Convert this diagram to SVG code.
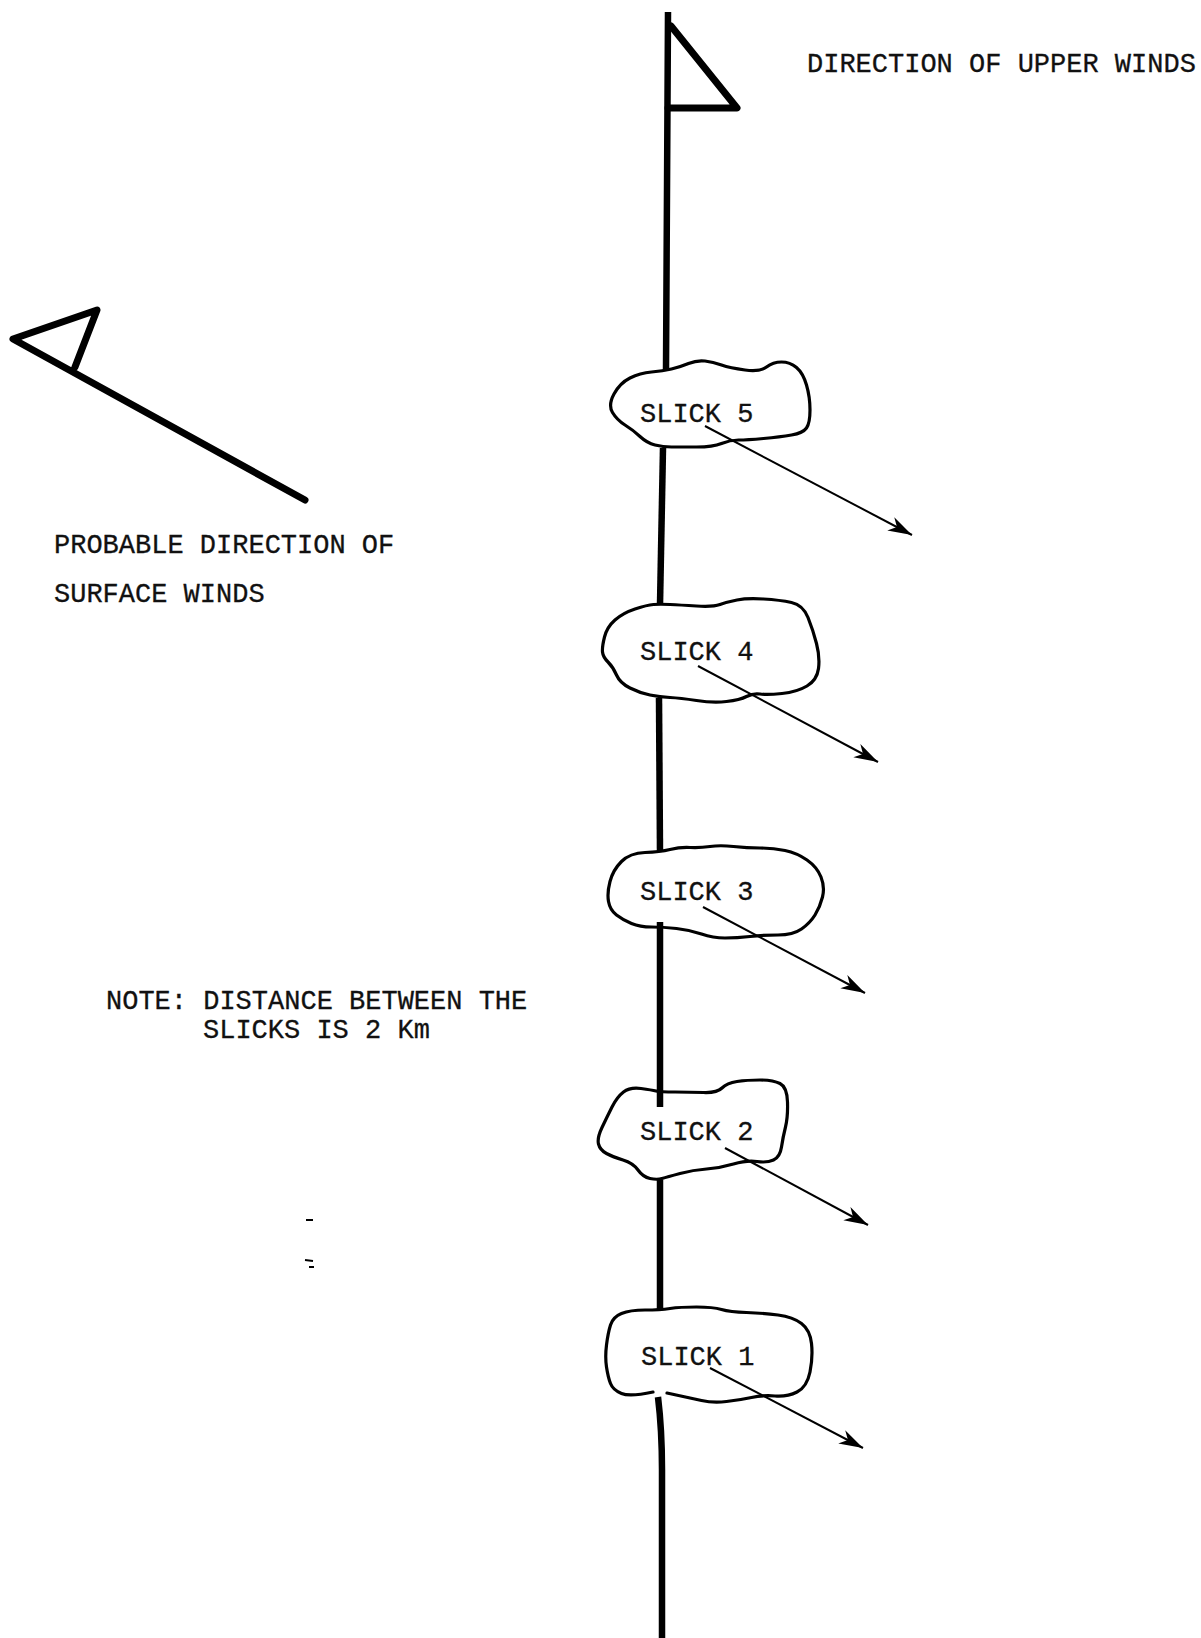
<svg xmlns="http://www.w3.org/2000/svg" width="1201" height="1638" viewBox="0 0 1201 1638">
<style>
.t{font-family:"Liberation Mono","DejaVu Sans Mono",monospace;font-size:27px;fill:#111;stroke:#111;stroke-width:0.3}
.cloud{fill:none;stroke:#000;stroke-width:3.2;stroke-linejoin:round;stroke-linecap:round}
.pole{fill:none;stroke:#000;stroke-width:6.5;stroke-linecap:butt}
.flag{fill:none;stroke:#000;stroke-width:7;stroke-linejoin:round;stroke-linecap:round}
.arrow{fill:none;stroke:#000;stroke-width:2;marker-end:url(#ah)}
.mark{stroke:#000;stroke-width:2}
</style>
<defs>
<marker id="ah" markerUnits="userSpaceOnUse" viewBox="-26 -10 28 20" refX="0" refY="0" markerWidth="28" markerHeight="20" orient="auto">
<path d="M0,0 L-24,-7.5 L-17,0 L-24,7.5 Z" fill="#000"/>
</marker>
</defs>
<rect width="1201" height="1638" fill="#fff"/>

<g id="connectors">
<path class="pole" d="M668,12 L667,190 L666,370"/>
<path class="pole" d="M663,448 L660,605"/>
<path class="pole" d="M659,698 L660,852"/>
<path class="pole" d="M660,922 L660,1107"/>
<path class="pole" d="M660,1180 L660,1310"/>
<path class="pole" d="M658,1397 Q662,1430 662,1470 L662,1638"/>
<line class="arrow" x1="705" y1="426" x2="912" y2="535"/>
<line class="arrow" x1="698" y1="666" x2="878" y2="762"/>
<line class="arrow" x1="703" y1="907" x2="865" y2="993"/>
<line class="arrow" x1="725" y1="1148" x2="868" y2="1225"/>
<line class="arrow" x1="710" y1="1368" x2="863" y2="1448"/>
</g>

<g id="upper-wind-flag">
<path class="flag" d="M671,26 L737,108 L668,108"/>
<text class="t" x="807" y="72">DIRECTION OF UPPER WINDS</text>
</g>

<g id="surface-wind-flag">
<path class="flag" d="M305,500 L13,339 L97,310 L75,367"/>
<text class="t" x="54" y="553">PROBABLE DIRECTION OF</text>
<text class="t" x="54" y="602">SURFACE WINDS</text>
</g>

<g id="slick5">
<path class="cloud" d="M612.5,412.5 Q608,405 614,394 Q620,383 630,378 Q640,373 651.5,372 Q663,371 671.5,369 Q680,367 688.5,363.5 Q697,360 705,361 Q713,362 721.5,365 Q730,368 745,370 Q760,372 766.5,367 Q773,362 781.5,362 Q790,362 796.5,367.5 Q803,373 806.5,385 Q810,397 810,410 Q810,423 806.5,428 Q803,433 791.5,435 Q780,437 763.5,438.5 Q747,440 738.5,440 Q730,440 721.5,443.5 Q713,447 696.5,447 Q680,447 671.5,447 Q663,447 655,445 Q647,443 640,436.5 Q633,430 625,425 Q617,420 612.5,412.5 Z"/>
<text class="t" x="640" y="422">SLICK 5</text>
</g>

<g id="slick4">
<path class="cloud" d="M602.5,652 Q602,647 604.5,637 Q607,627 615,620 Q623,613 635,609 Q647,605 653.5,604.5 Q660,604 670,604.5 Q680,605 696.5,606 Q713,607 720,604.5 Q727,602 737,600 Q747,598 763.5,599 Q780,600 791.5,602.5 Q803,605 808,617.5 Q813,630 816.5,643.5 Q820,657 818.5,668.5 Q817,680 807,686 Q797,692 782,693.5 Q767,695 760,694 Q753,693 746.5,696.5 Q740,700 726.5,701.5 Q713,703 696.5,700.5 Q680,698 670,697.5 Q660,697 650,695 Q640,693 630,688 Q620,683 616.5,675 Q613,667 608,662 Q603,657 602.5,652 Z"/>
<text class="t" x="640" y="660">SLICK 4</text>
</g>

<g id="slick3">
<path class="cloud" d="M608.5,901.5 Q607,893 610,881.5 Q613,870 621.5,861.5 Q630,853 645,852.5 Q660,852 670,849.5 Q680,847 690,847.5 Q700,848 710,846.5 Q720,845 733.5,846.5 Q747,848 760,848 Q773,848 785,850.5 Q797,853 807,860 Q817,867 821,877 Q825,887 822.5,897 Q820,907 815,915 Q810,923 801.5,929 Q793,935 778,935 Q763,935 750,936.5 Q737,938 725,938 Q713,938 701.5,934 Q690,930 676.5,928.5 Q663,927 651.5,927 Q640,927 631.5,923.5 Q623,920 616.5,915 Q610,910 608.5,901.5 Z"/>
<text class="t" x="640" y="900">SLICK 3</text>
</g>

<g id="slick2">
<path class="cloud" d="M598.5,1144 Q597,1138 602,1127.5 Q607,1117 612,1107 Q617,1097 623.5,1092 Q630,1087 641,1088.5 Q652,1090 656,1091 Q660,1092 675,1092 Q690,1092 703.5,1092.5 Q717,1093 722,1088 Q727,1083 737,1081.5 Q747,1080 760,1080 Q773,1080 780,1083.5 Q787,1087 787.5,1102 Q788,1117 785.5,1127 Q783,1137 781.5,1147 Q780,1157 773.5,1160 Q767,1163 757,1161.5 Q747,1160 733.5,1164 Q720,1168 706.5,1169 Q693,1170 680,1173.5 Q667,1177 662,1178.5 Q657,1180 650,1178.5 Q643,1177 638,1170 Q633,1163 623,1160 Q613,1157 606.5,1153.5 Q600,1150 598.5,1144 Z"/>
<text class="t" x="640" y="1140">SLICK 2</text>
</g>

<g id="slick1">
<path class="cloud" d="M653,1392 Q630,1397 621.5,1393.5 Q613,1390 610.5,1383.5 Q608,1377 606.5,1367 Q605,1357 606.5,1345 Q608,1333 610.5,1325 Q613,1317 621.5,1313.5 Q630,1310 645,1310 Q660,1310 670,1308.5 Q680,1307 696.5,1307 Q713,1307 721.5,1309.5 Q730,1312 746.5,1312.5 Q763,1313 778,1315 Q793,1317 801.5,1323.5 Q810,1330 811.5,1343.5 Q813,1357 810,1372 Q807,1387 797,1392 Q787,1397 775,1396 Q763,1395 751.5,1397.5 Q740,1400 726.5,1401.5 Q713,1403 701.5,1400.5 Q690,1398 678.5,1395.5 L667,1393"/>
<text class="t" x="641" y="1365">SLICK 1</text>
</g>

<g id="note">
<text class="t" x="106" y="1009">NOTE: DISTANCE BETWEEN THE</text>
<text class="t" x="203" y="1038">SLICKS IS 2 Km</text>
</g>

<g id="marks">
<line class="mark" x1="306" y1="1220" x2="313" y2="1220"/>
<line class="mark" x1="305" y1="1260" x2="313" y2="1261"/>
<line class="mark" x1="309" y1="1267" x2="314" y2="1267"/>
</g>
</svg>
